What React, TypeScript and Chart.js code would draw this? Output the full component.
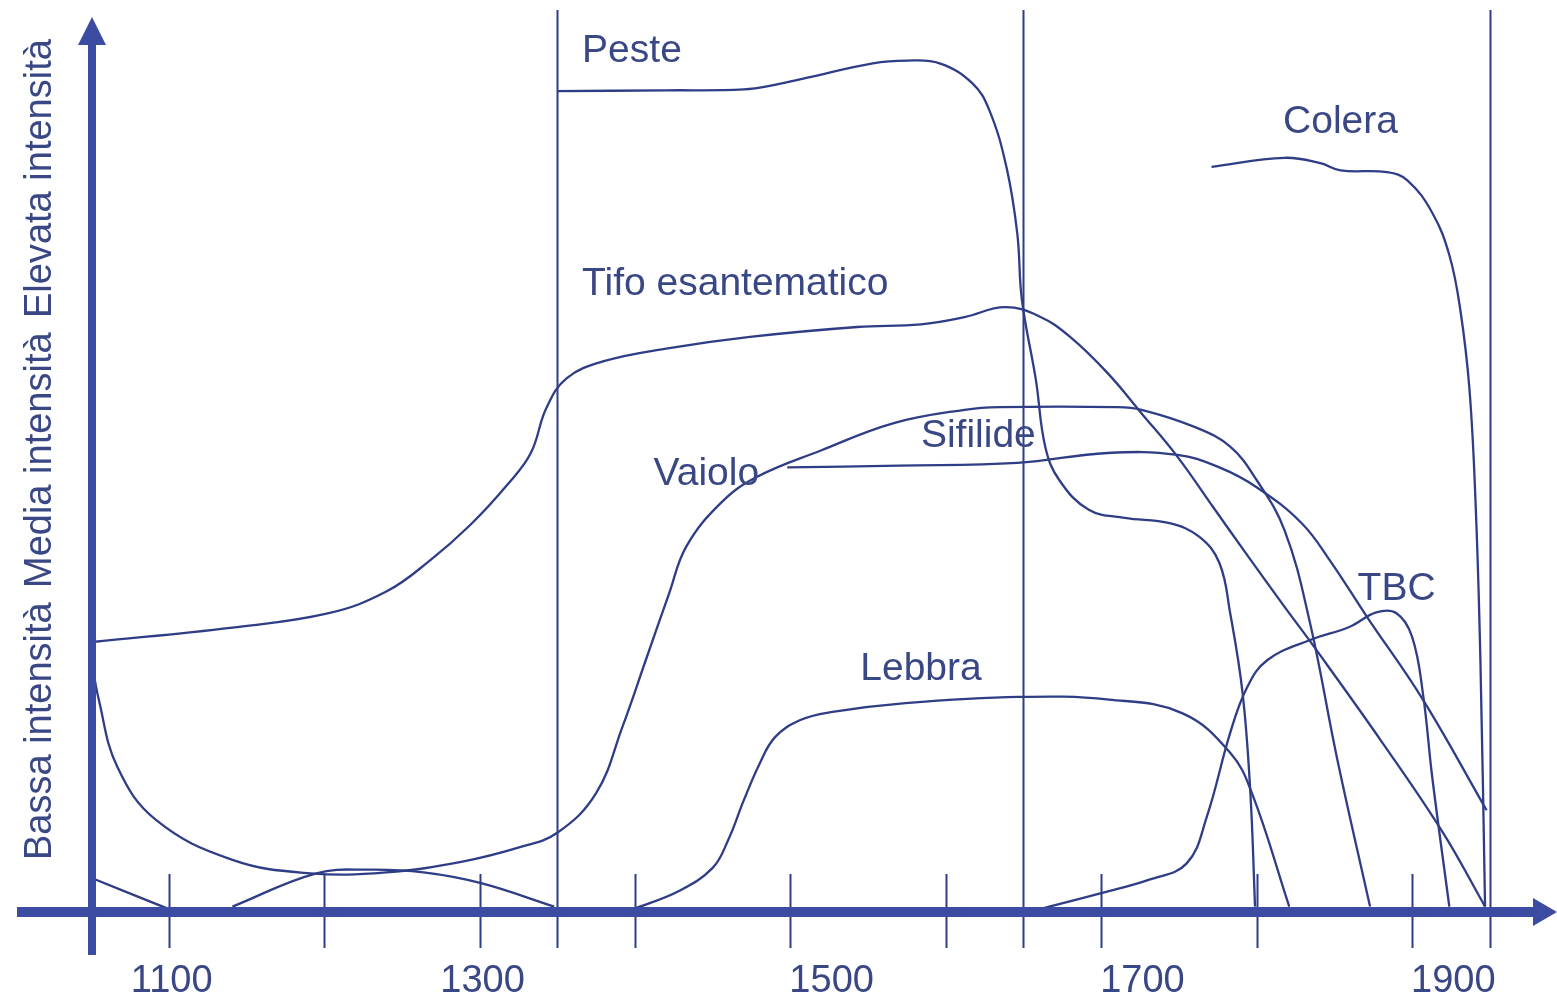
import React, { useEffect, useRef } from "react";
import { Chart, registerables } from "chart.js";

Chart.register(...registerables);

// ---- data (years on x, intensity 0-100 on y) ----
const tifoYears = [1051, 1141, 1203, 1240, 1267, 1294, 1318, 1333, 1343, 1356, 1380, 1420, 1474, 1543, 1584, 1612, 1638, 1660, 1680, 1704, 1726, 1749, 1772, 1795, 1818, 1836, 1881, 1920, 1947];
const tifoValues = [30.0, 31.6, 33.2, 35.6, 38.9, 43.0, 47.5, 51.0, 56.0, 59.3, 61.2, 62.6, 63.9, 65.0, 65.3, 66.1, 67.2, 66.2, 63.9, 59.9, 55.4, 50.6, 45.0, 39.4, 33.9, 29.7, 18.8, 8.8, 0.6];

const vaioloYears = [1050, 1055, 1067, 1092, 1141, 1191, 1240, 1289, 1326, 1350, 1375, 1392, 1407, 1422, 1433, 1455, 1478, 1520, 1566, 1612, 1635, 1710, 1726, 1760, 1783, 1800, 1818, 1834, 1852, 1873];
const vaioloValues = [28.3, 23.6, 16.1, 10.2, 5.8, 4.3, 4.4, 5.6, 7.2, 8.8, 13.2, 20.6, 28.0, 35.4, 40.6, 45.4, 48.3, 51.3, 54.3, 55.8, 56.1, 56.1, 55.8, 53.9, 51.7, 48.0, 42.4, 32.4, 16.9, 0.6];

const sifilideYears = [1498, 1570, 1646, 1704, 1749, 1776, 1800, 1829, 1847, 1871, 1907, 1948];
const sifilideValues = [49.4, 49.6, 49.9, 51.0, 50.8, 49.4, 47.2, 43.2, 39.1, 32.8, 23.6, 11.3];

const pesteYears = [1350, 1420, 1470, 1490, 1511, 1553, 1575, 1596, 1617, 1628, 1639, 1646, 1649, 1658, 1664, 1673, 1692, 1715, 1744, 1763, 1776, 1783, 1791, 1796, 1799];
const pesteValues = [91.2, 91.3, 91.4, 91.9, 92.7, 94.3, 94.6, 94.3, 92.1, 89.1, 82.8, 75.4, 68.0, 59.1, 51.7, 48.0, 44.7, 43.8, 43.2, 41.7, 38.8, 33.2, 24.3, 13.2, 0.6];

const coleraYears = [1771, 1818, 1841, 1854, 1884, 1897, 1913, 1924, 1931, 1937, 1941, 1944, 1947];
const coleraValues = [82.8, 83.8, 83.2, 82.4, 82.2, 81.3, 77.7, 73.0, 67.0, 58.0, 45.0, 28.0, 0.6];

const tbcYears = [1660, 1700, 1731, 1755, 1768, 1783, 1794, 1807, 1834, 1860, 1877, 1890, 1900, 1907, 1913, 1924];
const tbcValues = [0.3, 2.1, 3.6, 5.4, 10.6, 19.9, 25.0, 28.0, 30.2, 31.7, 33.3, 33.2, 30.6, 24.3, 15.0, 0.6];

const lebbraYears = [1400, 1428, 1450, 1460, 1470, 1480, 1490, 1506, 1526, 1574, 1647, 1705, 1752, 1783, 1797, 1821];
const lebbraValues = [0.4, 2.3, 4.9, 8.0, 12.4, 16.4, 19.4, 21.3, 22.2, 23.2, 23.9, 23.6, 22.1, 17.7, 13.2, 0.6];

const earlyAYears = [1050, 1099];
const earlyAValues = [3.8, 0.4];

const earlyBYears = [1141, 1195, 1229, 1264, 1301, 1348];
const earlyBValues = [0.6, 4.3, 4.7, 4.4, 3.2, 0.6];

const tickYears = [1100, 1200, 1300, 1400, 1500, 1600, 1700, 1800, 1900];
const periodYears = [1350, 1650, 1950];
const tickLabelYears = [1100, 1300, 1500, 1700, 1900];
const tickLabels = ["1100", "1300", "1500", "1700", "1900"];

const seriesNames = ["Tifo esantematico", "Vaiolo", "Sifilide", "Peste", "Colera", "TBC", "Lebbra", "", ""];
const axisTexts = ["Bassa intensità", "Media intensità", "Elevata intensità"];

// ---- styles ----
const AXIS_COLOR = "#3b4ca2";
const LINE_COLOR = "#2f3d86";
const TEXT_COLOR = "#3a4785";
const FONT = '39px "Liberation Sans", Arial, Helvetica, sans-serif';
const AXIS_FONT = '38px "Liberation Sans", Arial, Helvetica, sans-serif';

// label anchors (data units: year, intensity) — left edge / baseline
const labelAnchors: Record<string, [number, number]> = {
  "Peste": [1366, 94.4],
  "Tifo esantematico": [1366, 68.6],
  "Colera": [1817, 86.6],
  "Sifilide": [1584, 51.7],
  "Vaiolo": [1412, 47.4],
  "TBC": [1865, 34.7],
  "Lebbra": [1545, 25.8],
};

function toPoints(xs: number[], ys: number[]) {
  return xs.map((x, i) => ({ x, y: ys[i] }));
}

const handPlugin = {
  id: "handAxes",
  beforeDatasetsDraw(chart: any) {
    const { ctx, scales } = chart;
    const x = scales.x;
    const y = scales.y;
    const y0 = y.getPixelForValue(0);
    ctx.save();
    ctx.strokeStyle = LINE_COLOR;
    ctx.lineWidth = 2;
    for (const yr of periodYears) {
      const px = Math.round(x.getPixelForValue(yr)) + 0.5;
      ctx.beginPath();
      ctx.moveTo(px, y.getPixelForValue(100) - 2);
      ctx.lineTo(px, y0 + 36);
      ctx.stroke();
    }
    for (const yr of tickYears) {
      const px = Math.round(x.getPixelForValue(yr)) + 0.5;
      ctx.beginPath();
      ctx.moveTo(px, y0 - 38);
      ctx.lineTo(px, y0 + 36);
      ctx.stroke();
    }
    ctx.restore();
  },
  afterDatasetsDraw(chart: any) {
    const { ctx, scales } = chart;
    const x = scales.x;
    const y = scales.y;
    const y0 = y.getPixelForValue(0);
    const xl = x.getPixelForValue(1050) + 1;
    ctx.save();
    ctx.fillStyle = AXIS_COLOR;
    ctx.strokeStyle = AXIS_COLOR;
    // x axis
    ctx.lineWidth = 10;
    ctx.beginPath();
    ctx.moveTo(17, y0);
    ctx.lineTo(1538, y0);
    ctx.stroke();
    ctx.beginPath();
    ctx.moveTo(1533, y0 - 14);
    ctx.lineTo(1557, y0);
    ctx.lineTo(1533, y0 + 14);
    ctx.closePath();
    ctx.fill();
    // y axis
    ctx.lineWidth = 8;
    ctx.beginPath();
    ctx.moveTo(xl, y0 + 43);
    ctx.lineTo(xl, 40);
    ctx.stroke();
    ctx.beginPath();
    ctx.moveTo(xl - 14, 45);
    ctx.lineTo(xl, 17);
    ctx.lineTo(xl + 14, 45);
    ctx.closePath();
    ctx.fill();

    // texts
    ctx.fillStyle = TEXT_COLOR;
    ctx.textBaseline = "alphabetic";
    ctx.font = AXIS_FONT;
    // x tick labels
    tickLabelYears.forEach((yr, i) => {
      const px = x.getPixelForValue(yr);
      if (yr < 1400) {
        ctx.textAlign = "center";
        ctx.fillText(tickLabels[i], px + 3, y0 + 80);
      } else {
        ctx.textAlign = "left";
        ctx.fillText(tickLabels[i], px - 1, y0 + 80);
      }
    });
    // y axis texts (rotated)
    const starts = [860, 588, 318];
    axisTexts.forEach((t, i) => {
      ctx.save();
      ctx.translate(51, starts[i]);
      ctx.rotate(-Math.PI / 2);
      ctx.textAlign = "left";
      ctx.fillText(t, 0, 0);
      ctx.restore();
    });
    // series labels
    ctx.font = FONT;
    ctx.textAlign = "left";
    for (const name of seriesNames) {
      const a = labelAnchors[name];
      if (!a) continue;
      ctx.fillText(name, x.getPixelForValue(a[0]), y.getPixelForValue(a[1]));
    }
    ctx.restore();
  },
};

export default function App() {
  const ref = useRef<HTMLCanvasElement | null>(null);
  useEffect(() => {
    if (!ref.current) return;
    const series = [
      toPoints(tifoYears, tifoValues),
      toPoints(vaioloYears, vaioloValues),
      toPoints(sifilideYears, sifilideValues),
      toPoints(pesteYears, pesteValues),
      toPoints(coleraYears, coleraValues),
      toPoints(tbcYears, tbcValues),
      toPoints(lebbraYears, lebbraValues),
      toPoints(earlyAYears, earlyAValues),
      toPoints(earlyBYears, earlyBValues),
    ];
    const chart = new Chart(ref.current, {
      type: "line",
      data: {
        datasets: series.map((d, i) => ({
          label: seriesNames[i] || "curva " + i,
          data: d,
          borderColor: LINE_COLOR,
          borderWidth: 2.3,
          pointRadius: 0,
          fill: false,
          tension: 0.4,
          clip: 10,
        })),
      },
      options: {
        animation: false,
        responsive: false,
        layout: { padding: { left: 91, right: 2, top: 12, bottom: 87 } },
        scales: {
          x: { type: "linear", min: 1050, max: 1992, display: false },
          y: { type: "linear", min: 0, max: 100, display: false },
        },
        plugins: { legend: { display: false }, tooltip: { enabled: false } },
        events: [],
      },
      plugins: [handPlugin],
    });
    return () => chart.destroy();
  }, []);
  return (
    <div style={{ position: "fixed", left: 0, top: 0, width: 1557, height: 999, background: "#fff" }}>
      <canvas ref={ref} width={1557} height={999} style={{ display: "block" }} />
    </div>
  );
}
